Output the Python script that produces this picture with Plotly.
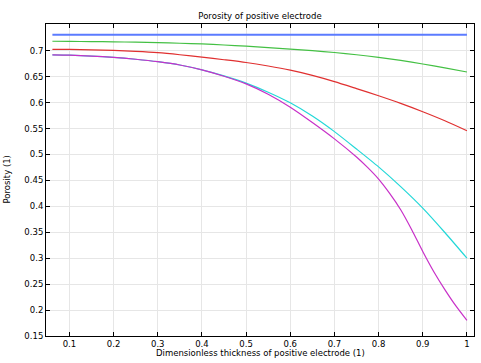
import plotly.graph_objects as go

# Data
x = [0.0615, 0.1, 0.15, 0.2, 0.25, 0.3, 0.35, 0.4, 0.45, 0.5,
     0.55, 0.6, 0.65, 0.7, 0.75, 0.8, 0.85, 0.9, 0.95, 1.0]
blue = [0.731] * len(x)
green = [0.7182, 0.7180, 0.7176, 0.7171, 0.7164, 0.7155, 0.7144, 0.7130, 0.7110, 0.7087,
         0.7060, 0.7030, 0.7000, 0.6966, 0.6922, 0.6873, 0.6812, 0.6744, 0.6670, 0.6590]
red = [0.7027, 0.7025, 0.7018, 0.7005, 0.6987, 0.6962, 0.6922, 0.6875, 0.6826, 0.6773,
       0.6705, 0.6625, 0.6525, 0.6405, 0.6270, 0.6132, 0.5985, 0.5824, 0.5650, 0.5458]
cyan = [0.692, 0.6915, 0.6897, 0.6872, 0.6835, 0.6788, 0.6725, 0.6632, 0.6515, 0.6375,
        0.6200, 0.5995, 0.5740, 0.5440, 0.5105, 0.4760, 0.4380, 0.3965, 0.3495, 0.300]

x_mag = [0.0615, 0.1, 0.15, 0.2, 0.25, 0.3, 0.35, 0.4, 0.45, 0.5,
         0.55, 0.6, 0.65, 0.7, 0.75, 0.775, 0.8, 0.825, 0.85, 0.875,
         0.9, 0.925, 0.95, 0.975, 1.0]
magenta = [0.692, 0.6915, 0.6897, 0.6872, 0.6835, 0.6788, 0.6725, 0.6630, 0.6508, 0.6360,
           0.6160, 0.5910, 0.5615, 0.5300, 0.4950, 0.4750, 0.4525, 0.4250, 0.3935, 0.3550,
           0.3130, 0.2740, 0.2395, 0.2080, 0.1800]

xtick_vals = [0.1, 0.2, 0.3, 0.4, 0.5, 0.6, 0.7, 0.8, 0.9, 1.0]
xtick_text = ["0.1", "0.2", "0.3", "0.4", "0.5", "0.6", "0.7", "0.8", "0.9", "1"]
ytick_vals = [0.15, 0.2, 0.25, 0.3, 0.35, 0.4, 0.45, 0.5, 0.55, 0.6, 0.65, 0.7]
ytick_text = ["0.15", "0.2", "0.25", "0.3", "0.35", "0.4", "0.45", "0.5", "0.55", "0.6", "0.65", "0.7"]

series = [
    (x, blue, "#5b7bff", 2.0),
    (x, green, "#44c044", 1.2),
    (x, red, "#e03030", 1.2),
    (x, cyan, "#22d8d8", 1.2),
    (x_mag, magenta, "#c830c8", 1.2),
]

FS = 8.5
FONT = "DejaVu Sans"

fig = go.Figure()
for xs, ys, col, w in series:
    fig.add_trace(go.Scatter(x=xs, y=ys, mode="lines",
                             line=dict(color=col, width=w, shape="spline", smoothing=0.7),
                             showlegend=False, hoverinfo="skip"))

axis_common = dict(
    showline=True, linecolor="black", linewidth=1, mirror="ticks",
    ticks="inside", ticklen=4, tickcolor="black",
    showgrid=True, gridcolor="#e6e6e6", gridwidth=1, zeroline=False,
    tickfont=dict(family=FONT, size=FS, color="black"),
    automargin=False, fixedrange=True,
)

W, H = 481, 363
ML, MR, MT, MB = 46, 7, 24, 27
PW, PH = W - ML - MR, H - MT - MB

fig.update_layout(
    width=W, height=H,
    margin=dict(l=ML, r=MR, t=MT, b=MB),
    paper_bgcolor="white", plot_bgcolor="white",
    font=dict(family=FONT, size=FS, color="black"),
    title=dict(text="Porosity of positive electrode", x=0.5, xanchor="center",
               y=1 - 16 / H, yanchor="middle", xref="paper",
               font=dict(family=FONT, size=FS, color="black")),
    xaxis=dict(range=[0.047, 1.016], tickvals=xtick_vals, ticktext=xtick_text,
               **axis_common),
    yaxis=dict(range=[0.15, 0.7515], tickvals=ytick_vals, ticktext=ytick_text,
               **axis_common),
    annotations=[
        dict(text="Dimensionless thickness of positive electrode (1)",
             xref="paper", yref="paper", x=0.5, y=-(352.5 - (H - MB)) / PH,
             xanchor="center", yanchor="middle", showarrow=False,
             font=dict(family=FONT, size=FS, color="black")),
        dict(text="Porosity (1)", textangle=-90,
             xref="paper", yref="paper", x=-(ML - 6.5) / PW, y=0.5,
             xanchor="center", yanchor="middle", showarrow=False,
             font=dict(family=FONT, size=FS, color="black")),
    ],
)

fig.write_html("out.html", config={"displayModeBar": False, "staticPlot": True},
               post_script="document.body.style.margin='0px';")
